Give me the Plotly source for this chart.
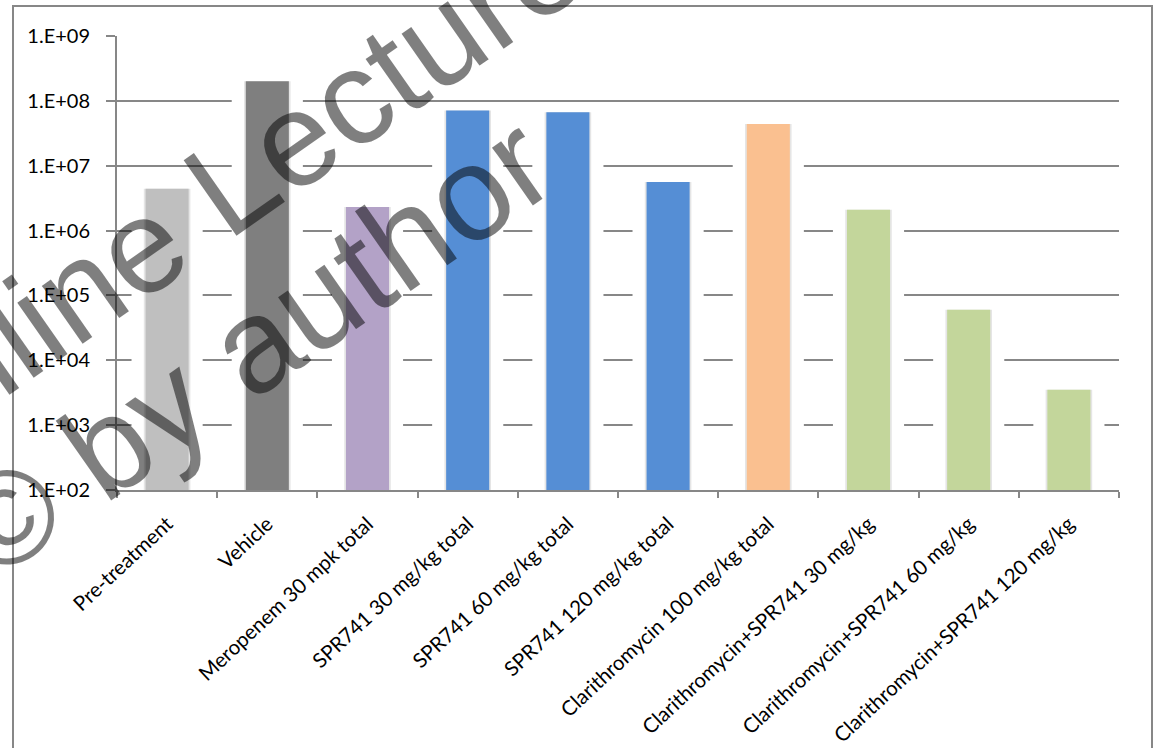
import plotly.graph_objects as go

# ---- data -------------------------------------------------------------
categories = [
    "Pre-treatment",
    "Vehicle",
    "Meropenem 30 mpk total",
    "SPR741 30 mg/kg total",
    "SPR741 60 mg/kg total",
    "SPR741 120 mg/kg total",
    "Clarithromycin 100 mg/kg total",
    "Clarithromycin+SPR741 30 mg/kg",
    "Clarithromycin+SPR741 60 mg/kg",
    "Clarithromycin+SPR741 120 mg/kg",
]
cfu = [4.4e6, 2.0e8, 2.3e6, 7.1e7, 6.7e7, 5.6e6, 4.4e7, 2.1e6, 6.0e4, 3.5e3]
bar_colors = [
    "#BFBFBF", "#7F7F7F", "#B3A2C7",
    "#558ED5", "#558ED5", "#558ED5",
    "#FAC090",
    "#C3D69B", "#C3D69B", "#C3D69B",
]
tick_vals = [1e2, 1e3, 1e4, 1e5, 1e6, 1e7, 1e8, 1e9]
tick_text = ["1.E+02", "1.E+03", "1.E+04", "1.E+05",
             "1.E+06", "1.E+07", "1.E+08", "1.E+09"]

# ---- page geometry ----------------------------------------------------
W, H = 1155, 748
ML, MR, MT, MB = 117, 36, 36, 258
PW, PH = W - ML - MR, H - MT - MB
LINE = "#878787"


def px(x):
    return (x - ML) / PW


def py(y):
    return (H - MB - y) / PH


fig = go.Figure()

# white glow around each column (hides the gridlines next to it)
fig.add_trace(go.Bar(
    x=categories, y=cfu, width=0.71,
    marker=dict(color="white", line=dict(width=0)),
    hoverinfo="skip", showlegend=False,
))
# soft shadow
fig.add_trace(go.Bar(
    x=categories, y=cfu, width=0.465,
    marker=dict(color="rgba(0,0,0,0.10)", line=dict(width=0)),
    hoverinfo="skip", showlegend=False,
))
# columns
fig.add_trace(go.Bar(
    x=categories, y=cfu, width=0.43,
    marker=dict(color=bar_colors, line=dict(width=0)),
    showlegend=False,
))

fig.update_layout(
    width=W, height=H,
    margin=dict(l=ML, r=MR, t=MT, b=MB, pad=0),
    paper_bgcolor="white", plot_bgcolor="white",
    barmode="overlay", bargap=0.57,
    font=dict(family="Lato, Carlito, sans-serif", size=19, color="black"),
    xaxis=dict(
        type="category", range=[-0.5, 9.5], automargin=False,
        showline=True, linecolor=LINE, linewidth=2,
        ticks="outside", tickson="boundaries", ticklen=6,
        tickcolor=LINE, tickwidth=2,
        tickangle=-43, tickfont=dict(size=20.5),
        ticklabelstandoff=12,
        showgrid=False,
    ),
    yaxis=dict(
        type="log", range=[2, 9], automargin=False,
        tickvals=tick_vals, ticktext=tick_text,
        showline=True, linecolor=LINE, linewidth=2,
        ticks="outside", ticklen=9, tickcolor=LINE, tickwidth=2,
        ticklabelstandoff=12,
        showgrid=True, gridcolor=LINE, gridwidth=2,
        zeroline=False, tickfont=dict(size=20),
    ),
)

# chart-area frame
fig.add_shape(
    type="rect", xref="paper", yref="paper",
    x0=px(13), x1=px(1152), y0=py(H + 20), y1=py(6),
    line=dict(color=LINE, width=2), fillcolor="rgba(0,0,0,0)",
    layer="above",
)

# watermark
wm_font = dict(family="Liberation Sans, Arial, sans-serif", size=134,
               color="rgba(0,0,0,0.5)")
fig.add_annotation(
    text="Online Lecture", xref="paper", yref="paper",
    x=px(210), y=py(197), xanchor="center", yanchor="middle",
    showarrow=False, textangle=-35, font=wm_font,
)
fig.add_annotation(
    text="© by author", xref="paper", yref="paper",
    x=px(250), y=py(346), xanchor="center", yanchor="middle",
    showarrow=False, textangle=-35, font=wm_font,
)

fig.write_html("out.html")
